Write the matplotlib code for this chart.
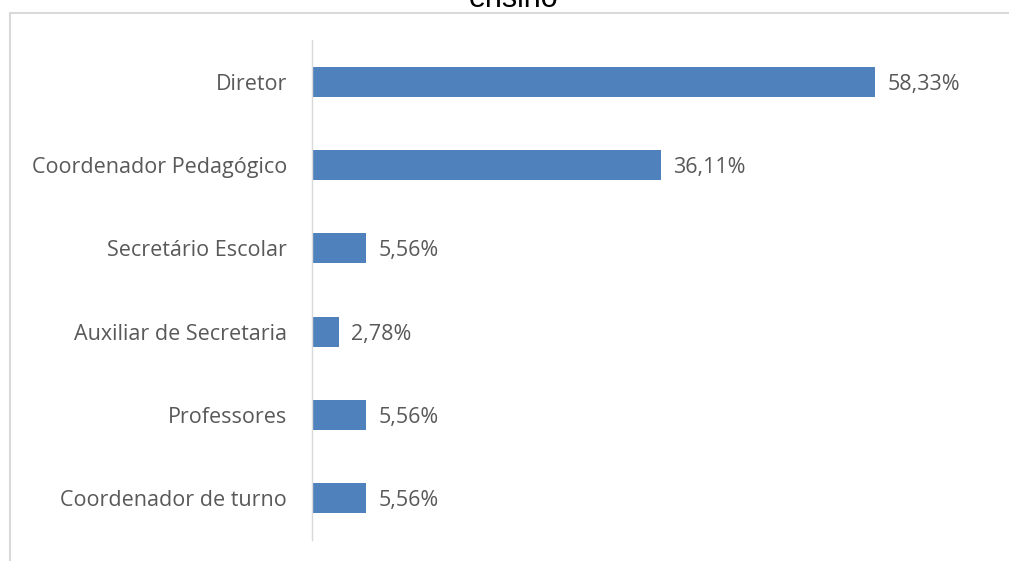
import matplotlib
matplotlib.use("Agg")
from matplotlib import pyplot as plt
from matplotlib.lines import Line2D

categories = ["Diretor", "Coordenador Pedagógico", "Secretário Escolar",
              "Auxiliar de Secretaria", "Professores", "Coordenador de turno"]
values = [58.33, 36.11, 5.56, 2.78, 5.56, 5.56]
value_labels = ["58,33%", "36,11%", "5,56%", "2,78%", "5,56%", "5,56%"]
title_tail = "ensino"

plt.rcParams['font.family'] = ['Open Sans', 'DejaVu Sans']

fig = plt.figure(figsize=(10.09, 5.61), dpi=100)
ax = fig.add_axes([312 / 1009, 1 - 540 / 561, 676 / 1009, 500 / 561])

pos = list(range(len(categories)))
ax.barh(pos, values, height=0.36, color='#4f81bd')
ax.set_ylim(len(categories) - 0.5, -0.5)
ax.set_xlim(0, 70)
ax.set_yticks(pos)
ax.set_yticklabels(categories, fontsize=15.5, color='#595959')
ax.tick_params(axis='y', length=0, pad=18)
ax.set_xticks([])
for side in ['top', 'right', 'bottom']:
    ax.spines[side].set_visible(False)
ax.spines['left'].set_color('#d9d9d9')
ax.spines['left'].set_linewidth(1)

for p, v, lab in zip(pos, values, value_labels):
    ax.annotate(lab, (v, p), xytext=(9, 0), textcoords='offset points',
                va='center_baseline', ha='left', fontsize=15.5, color='#595959')

# chart frame (only top and left visible in the crop)
fig.add_artist(Line2D([10 / 1009, 10 / 1009], [0, 1 - 13 / 561],
                      transform=fig.transFigure, color='#d9d9d9', lw=1.5))
fig.add_artist(Line2D([10 / 1009, 1], [1 - 13 / 561, 1 - 13 / 561],
                      transform=fig.transFigure, color='#d9d9d9', lw=1.5))

fig.text(514 / 1009, 1 - 7 / 561, title_tail, ha='center', va='baseline',
         fontsize=22, color='black', family=['Liberation Sans', 'DejaVu Sans'])

fig.savefig("out.png", dpi=100)
